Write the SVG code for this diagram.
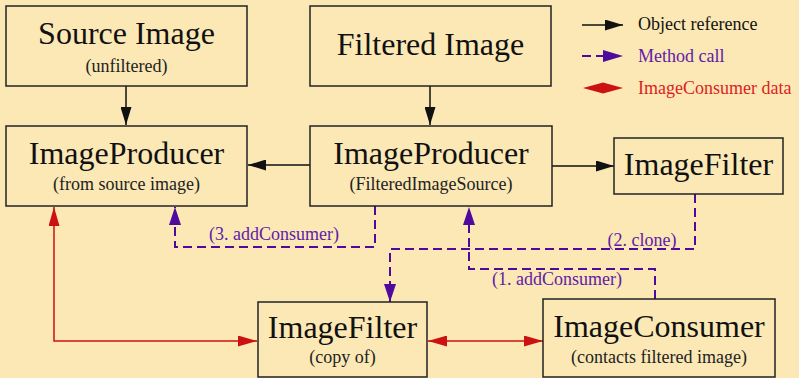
<svg xmlns="http://www.w3.org/2000/svg" width="799" height="378" viewBox="0 0 799 378">
<style>
.box{fill:#FBE8B5;stroke:#222;stroke-width:1.5}
.big{font-family:"Liberation Serif",serif;font-size:32px;fill:#111;text-anchor:middle}
.small{font-family:"Liberation Serif",serif;font-size:18px;fill:#222;text-anchor:middle}
.lbl{font-family:"Liberation Serif",serif;font-size:18px;fill:#6020A8;text-anchor:middle}
.ref{fill:none;stroke:#111;stroke-width:1.5}
.call{fill:none;stroke:#4E0A9C;stroke-width:2;stroke-dasharray:9,5}
.data{fill:none;stroke:#CC1111;stroke-width:1.5}
.leg{font-family:"Liberation Serif",serif;font-size:18px}
</style>
<defs>
<marker id="ab" markerUnits="userSpaceOnUse" markerWidth="18" markerHeight="11" refX="18" refY="5.5" orient="auto-start-reverse"><path d="M0,0 L18,5.5 L0,11 z" fill="#111"/></marker>
<marker id="ap" markerUnits="userSpaceOnUse" markerWidth="18" markerHeight="12" refX="18" refY="6" orient="auto-start-reverse"><path d="M0,0 L18,6 L0,12 z" fill="#4E0A9C"/></marker>
<marker id="ar" markerUnits="userSpaceOnUse" markerWidth="19" markerHeight="11" refX="19" refY="5.5" orient="auto-start-reverse"><path d="M0,0 L19,5.5 L0,11 z" fill="#CC1111"/></marker>
</defs>
<rect width="799" height="378" fill="#FBE8B5"/>

<g id="connectors">
<path class="ref" d="M126,86 V125" marker-end="url(#ab)"/>
<path class="ref" d="M430,86 V125" marker-end="url(#ab)"/>
<path class="ref" d="M310,165 H248" marker-end="url(#ab)"/>
<path class="ref" d="M552,166 H614" marker-end="url(#ab)"/>
<path class="call" d="M375,206 V247 H175 V207" marker-end="url(#ap)"/>
<path class="call" d="M695,194 V249 H390 V302" marker-end="url(#ap)"/>
<path class="call" d="M655,299 V269 H469 V207" marker-end="url(#ap)"/>
<path class="data" d="M54,207 V341 H257" marker-start="url(#ar)" marker-end="url(#ar)"/>
<path class="data" d="M428,341 H543" marker-start="url(#ar)" marker-end="url(#ar)"/>
<text class="lbl" x="274" y="240">(3. addConsumer)</text>
<text class="lbl" x="642" y="246">(2. clone)</text>
<text class="lbl" x="557" y="285">(1. addConsumer)</text>
</g>

<g id="source-image">
<rect class="box" x="6" y="6" width="241" height="80"/>
<text class="big" x="126.5" y="44">Source Image</text>
<text class="small" x="126.5" y="72">(unfiltered)</text>
</g>
<g id="filtered-image">
<rect class="box" x="310" y="6" width="241" height="80"/>
<text class="big" x="430.5" y="55">Filtered Image</text>
</g>
<g id="producer-source">
<rect class="box" x="6" y="126" width="241" height="80"/>
<text class="big" x="126.5" y="164">ImageProducer</text>
<text class="small" x="126.5" y="190">(from source image)</text>
</g>
<g id="producer-filtered">
<rect class="box" x="310" y="126" width="242" height="80"/>
<text class="big" x="431" y="164">ImageProducer</text>
<text class="small" x="431" y="190">(FilteredImageSource)</text>
</g>
<g id="image-filter">
<rect class="box" x="614" y="138" width="169" height="56"/>
<text class="big" x="698.5" y="175">ImageFilter</text>
</g>
<g id="image-filter-copy">
<rect class="box" x="258" y="302" width="169" height="75"/>
<text class="big" x="342.5" y="338">ImageFilter</text>
<text class="small" x="342.5" y="363">(copy of)</text>
</g>
<g id="image-consumer">
<rect class="box" x="543" y="299" width="232" height="78"/>
<text class="big" x="659" y="337">ImageConsumer</text>
<text class="small" x="659" y="363">(contacts filtered image)</text>
</g>

<g id="legend">
<path class="ref" d="M582,25 H623" marker-end="url(#ab)"/>
<text class="leg" x="638" y="30" fill="#111">Object reference</text>
<path class="call" d="M582,56 H605" stroke-dasharray="7,5"/>
<path d="M603,50 L623,56 L603,62 z" fill="#4E0A9C"/>
<text class="leg" x="638" y="62" fill="#6020A8">Method call</text>
<path d="M583,88 L603,82.5 L623,88 L603,93.5 z" fill="#CC1111"/>
<text class="leg" x="638" y="94" fill="#DD2222">ImageConsumer data</text>
</g>
</svg>
